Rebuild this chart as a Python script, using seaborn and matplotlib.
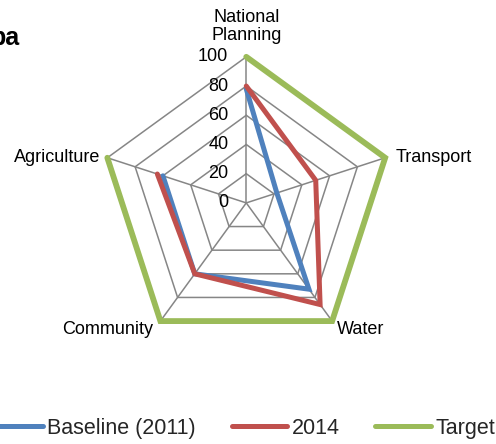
import numpy as np
import matplotlib
matplotlib.use("Agg")
import matplotlib.pyplot as plt
from matplotlib.lines import Line2D
import seaborn as sns

# =========================================
# DATA
# =========================================

categories = ["National\nPlanning", "Transport", "Water", "Community", "Agriculture"]
baseline_2011 = [78, 22, 73, 60, 60]
values_2014 = [80, 50, 86, 60, 64]
target = [100, 100, 100, 100, 100]
tick_values = [0, 20, 40, 60, 80, 100]

series_names = ["Baseline (2011)", "2014", "Target"]
series_values = [baseline_2011, values_2014, target]
series_colors = ["#4F81BD", "#C0504D", "#9BBB59"]
series_widths = [3.6, 3.6, 4.2]

# =========================================
# STYLE
# =========================================

sns.set_theme(style="white")
plt.rcParams["font.family"] = ["Liberation Sans", "DejaVu Sans"]

fig = plt.figure(figsize=(4.96, 4.44), dpi=100)
ax = fig.add_axes([0.202, 0.214, 0.589, 0.658], projection="polar")
ax.set_theta_offset(np.pi / 2)
ax.set_theta_direction(-1)
ax.set_ylim(0, 100)
ax.grid(False)
ax.spines["polar"].set_visible(False)
ax.set_xticks([])
ax.set_yticks([])
ax.patch.set_alpha(0)

n = len(categories)
angles = np.linspace(0, 2 * np.pi, n, endpoint=False)
angles_closed = np.append(angles, angles[0])

# =========================================
# GRID (pentagon rings + spokes)
# =========================================

grid_color = "#868686"
for t in tick_values[1:]:
    ax.plot(angles_closed, [t] * (n + 1), color=grid_color, lw=1.1, zorder=1)
for a in angles:
    ax.plot([a, a], [0, tick_values[-1]], color=grid_color, lw=1.1, zorder=1)

# =========================================
# SERIES
# =========================================

for name, vals, col, lw in zip(series_names, series_values, series_colors, series_widths):
    closed = list(vals) + [vals[0]]
    sns.lineplot(x=angles_closed, y=closed, sort=False, color=col, lw=lw,
                 ax=ax, clip_on=False, zorder=3, solid_joinstyle="miter")

ax.set_xlabel("")
ax.set_ylabel("")
ax.set_ylim(0, 100)

# =========================================
# TICK LABELS
# =========================================

for t in tick_values:
    ax.annotate(str(t), xy=(0, t), xytext=(-18, 0), textcoords="offset pixels",
                ha="right", va="center", fontsize=13, color="black",
                annotation_clip=False)

# =========================================
# CATEGORY LABELS
# =========================================

label_offsets = [(0, 13), (10, 0), (5, -8), (-7, -8), (-7, 0)]
label_align = [("center", "bottom"), ("left", "center"), ("left", "center"),
               ("right", "center"), ("right", "center")]
for a, lab, off, (ha, va) in zip(angles, categories, label_offsets, label_align):
    ax.annotate(lab, xy=(a, 100), xytext=off, textcoords="offset pixels",
                ha=ha, va=va, fontsize=13, color="black", linespacing=1.1,
                annotation_clip=False)

# =========================================
# LEGEND + TITLE
# =========================================

handles = [Line2D([0], [0], color=c, lw=3.6, solid_capstyle="round")
           for c in series_colors]
fig.legend(handles, series_names, loc="center left",
           bbox_to_anchor=(-0.026, 0.036), ncol=3, frameon=False,
           fontsize=15.5, handlelength=2.6, handletextpad=0.2,
           columnspacing=1.65, borderpad=0, borderaxespad=0)

fig.text(19 / 496, 1 - 45 / 444, "ba", ha="right", va="baseline",
         fontsize=18, fontweight="bold", color="black")

plt.savefig("out.png", dpi=100)
